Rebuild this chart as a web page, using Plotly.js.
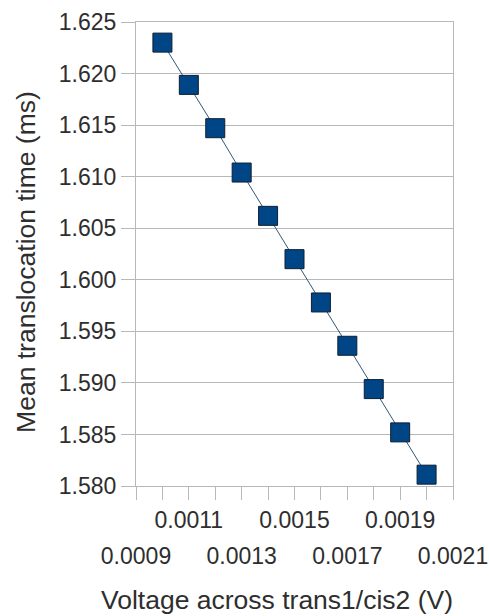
<!DOCTYPE html>
<html>
<head>
<meta charset="utf-8">
<script src="https://cdn.plot.ly/plotly-3.0.1.min.js"></script>
<style>
html,body{margin:0;padding:0;background:#fff;}
#chart{width:489px;height:616px;}
</style>
</head>
<body>
<div id="chart"></div>
<script>
// Data
const voltage = [0.0010, 0.0011, 0.0012, 0.0013, 0.0014, 0.0015, 0.0016, 0.0017, 0.0018, 0.0019, 0.0020];
const meanTime = [1.6230, 1.6189, 1.6147, 1.6104, 1.6062, 1.6020, 1.5978, 1.5936, 1.5894, 1.5852, 1.5811];

const yTickVals = [1.580, 1.585, 1.590, 1.595, 1.600, 1.605, 1.610, 1.615, 1.620, 1.625];
const yTickText = ["1.580", "1.585", "1.590", "1.595", "1.600", "1.605", "1.610", "1.615", "1.620", "1.625"];

const xTickMarks = [0.0009, 0.0010, 0.0011, 0.0012, 0.0013, 0.0014, 0.0015, 0.0016, 0.0017, 0.0018, 0.0019, 0.0020, 0.0021];
const xRow1Vals = [0.0011, 0.0015, 0.0019];
const xRow1Text = ["0.0011", "0.0015", "0.0019"];
const xRow2Vals = [0.0009, 0.0013, 0.0017, 0.0021];
const xRow2Text = ["0.0009", "0.0013", "0.0017", "0.0021"];

const xTitle = "Voltage across trans1/cis2 (V)";
const yTitle = "Mean translocation time (ms)";

const gridCol = "#b8b8b8";
const txtCol = "#2e2e2e";
const fontFam = "Liberation Sans, Arial, sans-serif";

const row1Text = xTickMarks.map(v => {
  const i = xRow1Vals.findIndex(r => Math.abs(r - v) < 1e-9);
  return i >= 0 ? xRow1Text[i] : "";
});

const trace = {
  type: "scatter",
  mode: "lines+markers",
  x: voltage,
  y: meanTime,
  line: {color: "#2f5878", width: 1},
  marker: {symbol: "square", size: 19, color: "#004586", line: {color: "#0d1f33", width: 1}},
  hoverinfo: "x+y",
  showlegend: false
};

// invisible trace on the second x axis so its labels are drawn
const trace2 = {
  type: "scatter", mode: "markers", x: [voltage[0]], y: [meanTime[0]],
  xaxis: "x2", yaxis: "y", marker: {opacity: 0}, showlegend: false, hoverinfo: "skip"
};

const layout = {
  width: 489, height: 616,
  margin: {l: 136, r: 36, t: 22, b: 130},
  paper_bgcolor: "#ffffff",
  plot_bgcolor: "#ffffff",
  font: {family: fontFam, color: txtCol, size: 23},
  xaxis: {
    range: [0.0009, 0.0021],
    tickmode: "array",
    tickvals: xTickMarks,
    ticktext: row1Text,
    ticks: "outside", ticklen: 13, tickwidth: 1, tickcolor: gridCol,
    showgrid: false, zeroline: false,
    showline: true, linecolor: gridCol, linewidth: 1, mirror: true,
    tickfont: {family: fontFam, size: 23, color: txtCol},
    ticklabelstandoff: 0,
    fixedrange: true
  },
  xaxis2: {
    overlaying: "x", anchor: "y", side: "bottom",
    range: [0.0009, 0.0021],
    tickmode: "array",
    tickvals: xRow2Vals,
    ticktext: xRow2Text,
    ticks: "", showgrid: false, zeroline: false, showline: false,
    tickfont: {family: fontFam, size: 23, color: txtCol},
    ticklabelstandoff: 54,
    fixedrange: true
  },
  yaxis: {
    range: [1.580, 1.625],
    tickmode: "array",
    tickvals: yTickVals,
    ticktext: yTickText,
    ticks: "outside", ticklen: 14, tickwidth: 1, tickcolor: gridCol,
    showgrid: true, gridcolor: gridCol, gridwidth: 1,
    zeroline: false,
    showline: true, linecolor: gridCol, linewidth: 1, mirror: true,
    tickfont: {family: fontFam, size: 23, color: txtCol},
    fixedrange: true
  },
  annotations: [
    {text: xTitle, xref: "paper", yref: "paper", x: 0.445, y: -0.2457,
     xanchor: "center", yanchor: "middle", showarrow: false,
     font: {family: fontFam, size: 26.5, color: txtCol}},
    {text: yTitle, xref: "paper", yref: "paper", x: -0.347, y: 0.483,
     xanchor: "center", yanchor: "middle", showarrow: false, textangle: -90,
     font: {family: fontFam, size: 26.5, color: txtCol}}
  ]
};

Plotly.newPlot("chart", [trace, trace2], layout, {displayModeBar: false, staticPlot: true});
</script>
</body>
</html>
